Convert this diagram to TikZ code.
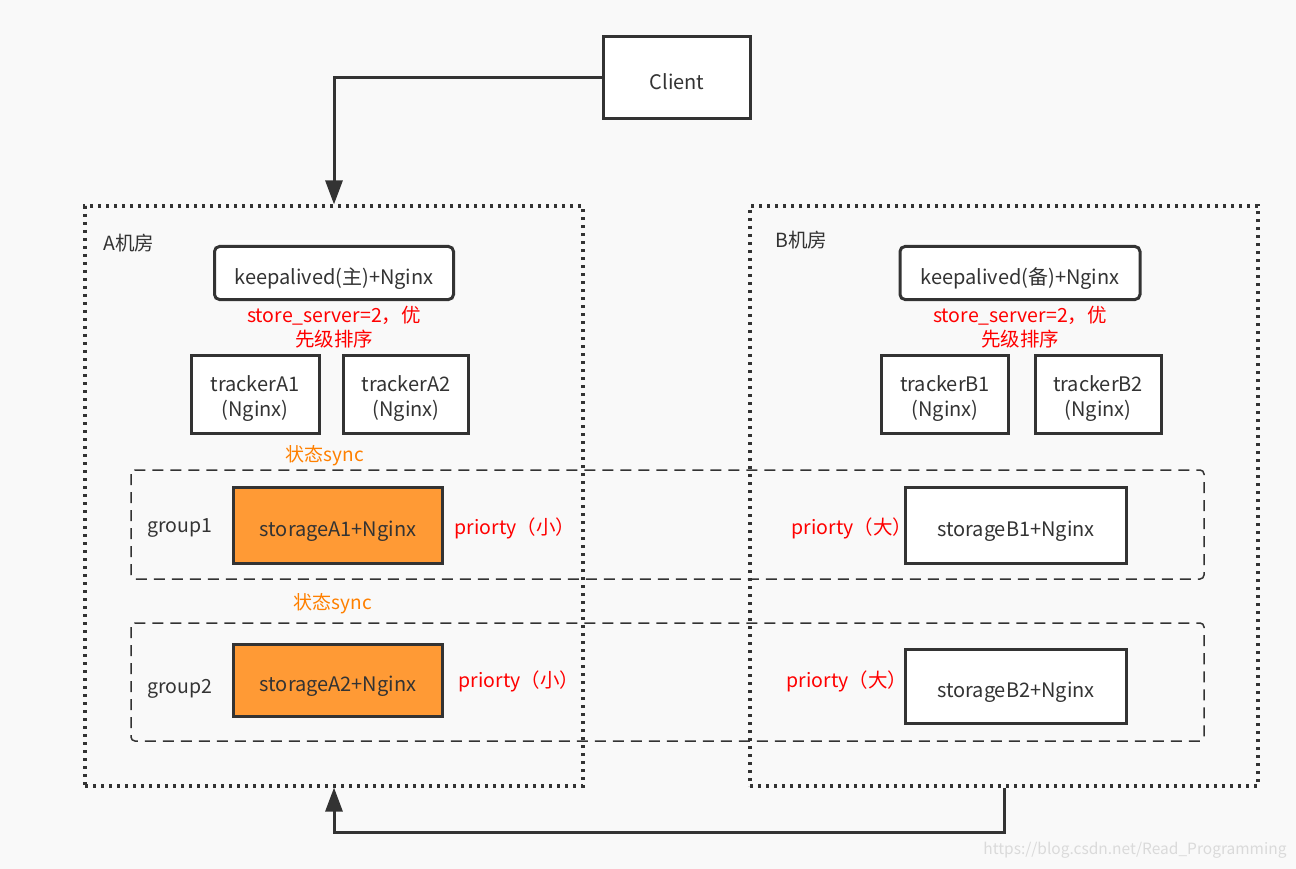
\documentclass[tikz,border=0pt]{standalone}
\usepackage{fontspec}
\setmainfont{Noto Sans CJK SC}
\usetikzlibrary{arrows.meta}

\definecolor{bggray}{HTML}{F9F9F9}
\definecolor{linegray}{HTML}{333333}
\definecolor{fillorange}{HTML}{FF9A35}
\definecolor{syncorange}{HTML}{FF8000}
\definecolor{markgray}{HTML}{DADADA}

\tikzset{
  box/.style={draw=linegray, line width=3pt, fill=white, inner sep=0pt, align=center, text height=23pt, text depth=0pt, font=\fontsize{20pt}{25pt}\selectfont, text=linegray},
  trackerbox/.style={box, text height=45pt, text depth=0pt},
  room/.style={draw=linegray, line width=3.2pt, dash pattern=on 3pt off 5pt, inner sep=0pt},
  group/.style={draw=linegray, line width=1.5pt, dash pattern=on 11pt off 7pt, rounded corners=4pt},
  lbl/.style={font=\fontsize{19.5pt}{24pt}\selectfont, text=linegray},
  redlbl/.style={font=\fontsize{19.5pt}{24pt}\selectfont, text=red, align=center},
  synclbl/.style={font=\fontsize{19pt}{22pt}\selectfont, text=syncorange},
  arr/.style={draw=linegray, line width=3pt, -{Triangle[length=24pt,width=17pt]}},
}

\begin{document}
\begin{tikzpicture}[x=1pt,y=-1pt]
\fill[bggray] (0,0) rectangle (1296,869);
\useasboundingbox (0,0) rectangle (1296,869);

% rooms
\node[room, minimum width=498pt, minimum height=580pt] (aroom) at (334,496) {};
\node[room, minimum width=508pt, minimum height=580pt] (broom) at (1004,496) {};
\node[lbl, anchor=west] (alabel) at (100,243) {A机房};
\node[lbl, anchor=west] (blabel) at (772,240) {B机房};

% groups
\draw[group] (131,470) rectangle (1204,579);
\draw[group] (131,623) rectangle (1204,741);
\node[lbl] (g1) at (180,528) {group1};
\node[lbl] (g2) at (180,689) {group2};

% client
\node[box, minimum width=147pt, minimum height=82pt] (client) at (677,78) {Client};

% A side
\node[box, rounded corners=5pt, minimum width=239pt, minimum height=53pt] (keepa) at (334,273) {keepalived(主)+Nginx};
\node[redlbl] (storea) at (334,327) {store\_server=2，优\\先级排序};
\node[trackerbox, minimum width=128pt, minimum height=78pt] (tra1) at (255,394) {trackerA1\\(Nginx)};
\node[trackerbox, minimum width=125pt, minimum height=78pt] (tra2) at (406,394) {trackerA2\\(Nginx)};
\node[synclbl] (sync1) at (325,456) {状态sync};
\node[box, fill=fillorange, minimum width=209pt, minimum height=76pt] (sta1) at (338,525) {storageA1+Nginx};
\node[redlbl] (pa1) at (515,528) {priorty（小）};
\node[synclbl] (sync2) at (333,604) {状态sync};
\node[box, fill=fillorange, minimum width=209pt, minimum height=72pt] (sta2) at (338,680) {storageA2+Nginx};
\node[redlbl] (pa2) at (519,681) {priorty（小）};

% B side
\node[box, rounded corners=5pt, minimum width=240pt, minimum height=53pt] (keepb) at (1020,273) {keepalived(备)+Nginx};
\node[redlbl] (storeb) at (1020,327) {store\_server=2，优\\先级排序};
\node[trackerbox, minimum width=127pt, minimum height=78pt] (trb1) at (945,394) {trackerB1\\(Nginx)};
\node[trackerbox, minimum width=126pt, minimum height=78pt] (trb2) at (1098,394) {trackerB2\\(Nginx)};
\node[redlbl] (pb1) at (852,528) {priorty（大）};
\node[box, minimum width=221pt, minimum height=76pt] (stb1) at (1016,525) {storageB1+Nginx};
\node[redlbl] (pb2) at (847,681) {priorty（大）};
\node[box, minimum width=221pt, minimum height=74pt] (stb2) at (1016,686) {storageB2+Nginx};

% connectors
\draw[arr] (client.west) -| (aroom.north);
\draw[arr] (broom.south) -- ++(0,45) -| (aroom.south);

\node[anchor=east, font=\fontsize{15.5pt}{18pt}\selectfont, text=markgray] (mark) at (1290,850) {https://blog.csdn.net/Read\_Programming};
\end{tikzpicture}
\end{document}
